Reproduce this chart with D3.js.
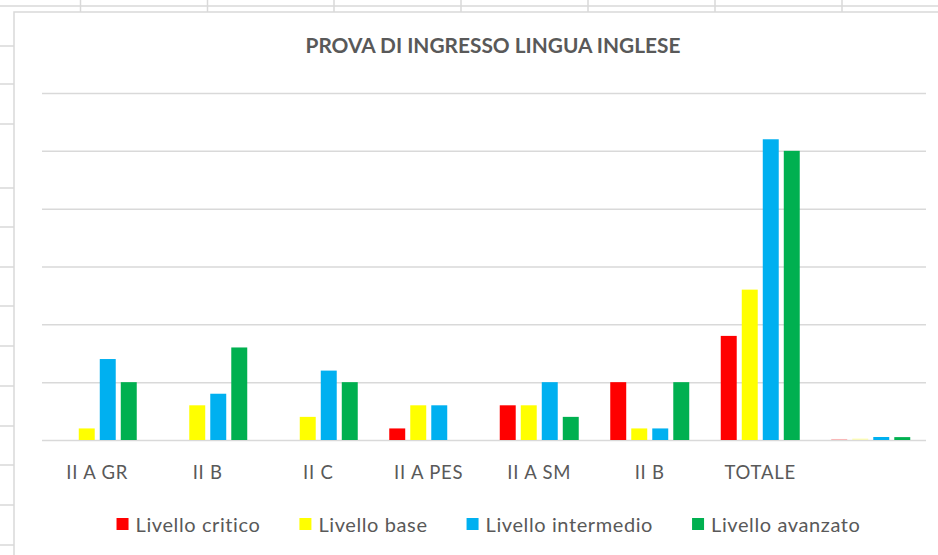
<!DOCTYPE html>
<html>
<head>
<meta charset="utf-8">
<script src="https://cdn.jsdelivr.net/npm/d3@7"></script>
<style>
    body { margin: 0; background: #fff; }
    svg { display: block; }
</style>
</head>
<body>
<svg id="chart"></svg>
<script>
var categories = ["II A GR", "II B", "II C", "II A PES", "II A SM", "II B", "TOTALE", ""];
var seriesNames = ["Livello critico", "Livello base", "Livello intermedio", "Livello avanzato"];
var seriesColors = ["#ff0000", "#ffff00", "#00b0f0", "#00b050"];
var critico = [0, 0, 0, 1, 3, 5, 9, 0.09];
var base = [1, 3, 2, 3, 3, 1, 13, 0.13];
var intermedio = [7, 4, 6, 3, 5, 1, 26, 0.26];
var avanzato = [5, 8, 5, 0, 2, 5, 25, 0.25];
var yTicks = [0, 5, 10, 15, 20, 25, 30];

var title = "PROVA DI INGRESSO LINGUA INGLESE";
var W = 938, H = 555;
var textColor = "#595959";
var lineColor = "#d9d9d9";
var font = "Lato, 'Open Sans', sans-serif";

var svg = d3.select("#chart")
    .attr("width", W)
    .attr("height", H);

// spreadsheet grid behind the chart
var sheet = svg.append("g").attr("stroke", lineColor).attr("stroke-width", 1.5);
sheet.append("line").attr("x1", 0).attr("x2", W).attr("y1", 6).attr("y2", 6);
[80.5, 207.5, 334, 461, 588, 715, 842].forEach(function (x) {
    sheet.append("line").attr("x1", x).attr("x2", x).attr("y1", 0).attr("y2", 12);
});
[46, 84, 124, 188, 227, 267, 306, 346, 386, 426, 465, 505, 545].forEach(function (y) {
    sheet.append("line").attr("x1", 0).attr("x2", 14).attr("y1", y).attr("y2", y);
});

// chart area
svg.append("rect")
    .attr("x", 14)
    .attr("y", 12)
    .attr("width", W)
    .attr("height", H)
    .attr("fill", "#fff")
    .attr("stroke", lineColor)
    .attr("stroke-width", 1.5);

svg.append("text")
    .attr("x", 493)
    .attr("y", 53)
    .attr("text-anchor", "middle")
    .attr("font-family", font)
    .attr("font-weight", "bold")
    .attr("font-size", 20)
    .attr("fill", textColor)
    .attr("textLength", 375)
    .attr("lengthAdjust", "spacingAndGlyphs")
    .text(title);

var plot = { left: 42, right: 926, top: 93, bottom: 440 };

var x = d3.scaleBand()
    .domain(d3.range(categories.length))
    .range([plot.left, plot.right]);

var xSub = d3.scaleBand()
    .domain(d3.range(seriesNames.length))
    .range([0, x.bandwidth()])
    .paddingInner(0.24)
    .paddingOuter(0.75);

var y = d3.scaleLinear()
    .domain([0, 30])
    .range([plot.bottom, plot.top]);

var grid = svg.append("g")
    .attr("transform", "translate(" + plot.left + ",0)")
    .call(d3.axisLeft(y).tickValues(yTicks).tickSize(-(plot.right - plot.left)).tickFormat(""));
grid.select(".domain").remove();
grid.selectAll("line").attr("stroke", lineColor).attr("stroke-width", 1.5);

var series = [critico, base, intermedio, avanzato];
var rows = categories.map(function (c, i) {
    return series.map(function (s, k) {
        return { cat: i, k: k, value: s[i] };
    });
});

svg.append("g")
    .selectAll("g")
    .data(rows)
    .enter()
    .append("g")
    .attr("transform", function (d, i) {
        return "translate(" + x(i) + ",0)";
    })
    .selectAll("rect")
    .data(function (d) { return d; })
    .enter()
    .append("rect")
    .attr("x", function (d) { return xSub(d.k); })
    .attr("width", xSub.bandwidth())
    .attr("y", function (d) { return y(d.value); })
    .attr("height", function (d) { return y(0) - y(d.value); })
    .attr("fill", function (d) { return seriesColors[d.k]; })
    .attr("fill-opacity", function (d) { return d.value < 0.2 ? 0.25 : 1; });

var xAxis = svg.append("g")
    .attr("transform", "translate(0," + plot.bottom + ")")
    .call(d3.axisBottom(x).tickSize(0).tickPadding(26).tickFormat(function (i) {
        return categories[i];
    }));
xAxis.select(".domain").remove();
xAxis.selectAll("text")
    .attr("font-family", font)
    .attr("font-size", 18.5)
    .attr("letter-spacing", 0.8)
    .attr("fill", textColor);

// legend laid out left to right, centred
var legend = svg.append("g");
var gap = 39;
var items = legend.selectAll("g")
    .data(seriesNames)
    .enter()
    .append("g");
items.append("rect")
    .attr("width", 12)
    .attr("height", 12)
    .attr("y", 518)
    .attr("fill", function (d, i) { return seriesColors[i]; });
items.append("text")
    .attr("x", 19)
    .attr("y", 531.5)
    .attr("font-family", font)
    .attr("font-size", 20)
    .attr("letter-spacing", 0.6)
    .attr("fill", textColor)
    .text(function (d) { return d; });

var offsets = [];
var pos = 0;
items.each(function () {
    offsets.push(pos);
    pos += 19 + this.querySelector("text").getComputedTextLength() + gap;
});
var total = pos - gap;
var startX = 488.5 - total / 2;
items.attr("transform", function (d, i) {
    return "translate(" + (startX + offsets[i]) + ",0)";
});
</script>
</body>
</html>
